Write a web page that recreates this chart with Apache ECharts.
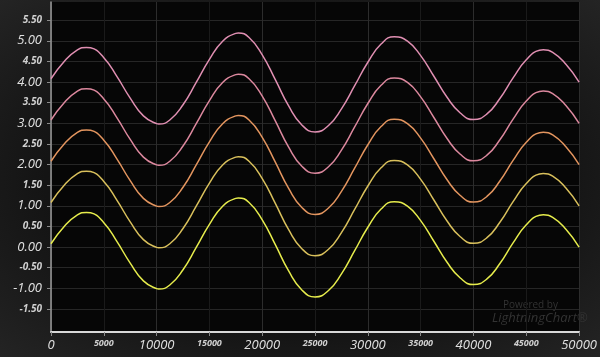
<!DOCTYPE html>
<html>
<head>
<meta charset="utf-8">
<script src="https://cdn.jsdelivr.net/npm/echarts@6/dist/echarts.min.js"></script>
<style>
html,body{margin:0;padding:0;}
body{width:600px;height:357px;background:radial-gradient(ellipse at 50% 50%, #0e0e0e 0%, #141414 60%, #242424 100%);}
#c{width:600px;height:357px;}
</style>
</head>
<body>
<div id="c"></div>
<script>
const xValues = [0,1250,2500,3360,3750,5000,6250,7500,8750,10000,10200,11250,12500,13750,15000,16250,17500,17730,18750,20000,21250,22500,23750,25000,26250,27500,28750,30000,31250,32500,33750,35000,36250,37500,38750,40000,41250,42500,43750,45000,46250,46610,47500,48750,50000];
const series1 = [0.08,0.50,0.78,0.84,0.83,0.59,0.13,-0.39,-0.82,-1.01,-1.02,-0.92,-0.55,-0.01,0.55,0.99,1.18,1.19,1.08,0.66,0.05,-0.58,-1.04,-1.21,-1.06,-0.65,-0.09,0.48,0.92,1.10,0.99,0.64,0.14,-0.37,-0.75,-0.91,-0.78,-0.40,0.10,0.54,0.77,0.78,0.72,0.43,0.00];
const series2 = [1.08,1.50,1.78,1.84,1.83,1.59,1.13,0.61,0.18,-0.01,-0.02,0.08,0.45,0.99,1.55,1.99,2.18,2.19,2.08,1.66,1.05,0.42,-0.04,-0.21,-0.06,0.35,0.91,1.48,1.92,2.10,1.99,1.64,1.14,0.63,0.25,0.09,0.22,0.60,1.10,1.54,1.77,1.78,1.72,1.43,1.00];
const series3 = [2.08,2.50,2.78,2.84,2.83,2.59,2.13,1.61,1.18,0.99,0.98,1.08,1.45,1.99,2.55,2.99,3.18,3.19,3.08,2.66,2.05,1.42,0.96,0.79,0.94,1.35,1.91,2.48,2.92,3.10,2.99,2.64,2.14,1.63,1.25,1.09,1.22,1.60,2.10,2.54,2.77,2.78,2.72,2.43,2.00];
const series4 = [3.08,3.50,3.78,3.84,3.83,3.59,3.13,2.61,2.18,1.99,1.98,2.08,2.45,2.99,3.55,3.99,4.18,4.19,4.08,3.66,3.05,2.42,1.96,1.79,1.94,2.35,2.91,3.48,3.92,4.10,3.99,3.64,3.14,2.63,2.25,2.09,2.22,2.60,3.10,3.54,3.77,3.78,3.72,3.43,3.00];
const series5 = [4.08,4.50,4.78,4.84,4.83,4.59,4.13,3.61,3.18,2.99,2.98,3.08,3.45,3.99,4.55,4.99,5.18,5.19,5.08,4.66,4.05,3.42,2.96,2.79,2.94,3.35,3.91,4.48,4.92,5.10,4.99,4.64,4.14,3.63,3.25,3.09,3.22,3.60,4.10,4.54,4.77,4.78,4.72,4.43,4.00];
const yTicks = [-1.5,-1.0,-0.5,0.0,0.5,1.0,1.5,2.0,2.5,3.0,3.5,4.0,4.5,5.0,5.5];
const xTicks = [0,5000,10000,15000,20000,25000,30000,35000,40000,45000,50000];
const allSeries = [series1, series2, series3, series4, series5];
const colors = ['#e6ec4c','#d9c05c','#e3955f','#dc889e','#e08fb2'];

const chart = echarts.init(document.getElementById('c'), null, {renderer:'canvas'});
const font = '"Open Sans", "DejaVu Sans", sans-serif';
chart.setOption({
  backgroundColor: 'transparent',
  animation: false,
  grid: {left: 51, right: 18, top: 2, bottom: 25, show: true, backgroundColor: '#060606', borderWidth: 0},
  xAxis: {
    type: 'value', min: 0, max: 50000, interval: 5000,
    axisLine: {show: true, onZero: false, lineStyle: {color: '#d8d8d8', width: 2}},
    axisTick: {show: true, length: 4, lineStyle: {color: '#8a8a8a'}},
    splitLine: {show: true, lineStyle: {color: ['#2c2c2c', '#1a1a1a'], width: 1}},
    axisLabel: {
      margin: 7,
      formatter: v => (v % 10000 === 0 ? '{a|' + v + '}' : '{b|' + v + '}'),
      rich: {
        a: {fontFamily: font, fontStyle: 'italic', fontSize: 13, color: '#e0e0e0'},
        b: {fontFamily: font, fontStyle: 'italic', fontWeight: 'bold', fontSize: 9, color: '#d0d0d0'}
      }
    }
  },
  yAxis: {
    type: 'value', min: -2.06, max: 5.94,
    axisLine: {show: true, onZero: false, lineStyle: {color: '#9a9a9a', width: 1.5}},
    axisTick: {show: true, length: 4, customValues: yTicks, lineStyle: {color: '#8a8a8a'}},
    splitLine: {show: true, customValues: yTicks, lineStyle: {color: '#262626', width: 1}},
    axisLabel: {
      customValues: yTicks,
      margin: 9,
      formatter: v => (Math.abs(v % 1) < 1e-9 ? '{a|' + v.toFixed(2) + '}' : '{b|' + v.toFixed(2) + '}'),
      rich: {
        a: {fontFamily: font, fontStyle: 'italic', fontSize: 13, color: '#e0e0e0'},
        b: {fontFamily: font, fontStyle: 'italic', fontWeight: 'bold', fontSize: 10, color: '#d0d0d0'}
      }
    }
  },
  graphic: [
    {type: 'text', left: 503, top: 300, style: {text: 'Powered by', fontFamily: font, fontSize: 10, fill: '#333333'}},
    {type: 'text', left: 492, top: 312, style: {text: 'LightningChart®', fontFamily: font, fontStyle: 'italic', fontSize: 13, fill: '#333333'}}
  ],
  series: allSeries.map((s, i) => ({
    type: 'line', smooth: true, showSymbol: false,
    data: xValues.map((x, j) => [x, s[j]]),
    lineStyle: {color: colors[i], width: 1.5},
    itemStyle: {color: colors[i]}
  }))
});
</script>
</body>
</html>
